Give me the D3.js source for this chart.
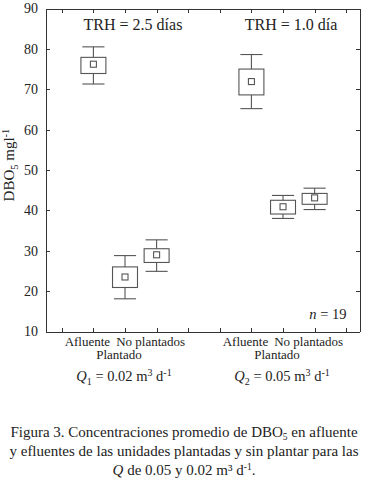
<!DOCTYPE html>
<meta charset="utf-8">
<style>
body { margin: 0; background: #fff; }
svg text { font-family: "Liberation Serif", serif; fill: #222; }
.axis path, .axis line { fill: none; stroke: #333; shape-rendering: crispEdges; }
.box rect, .box line { fill: none; stroke: #555; stroke-width: 1.1; }
</style>
<svg class="chart" width="368" height="480"></svg>
<script src="https://d3js.org/d3.v7.min.js"></script>
<script>

var groups = ["Q1", "Q2"];
var flows = ["0.02", "0.05"];
var trh = ["TRH = 2.5 días", "TRH = 1.0 día"];
var categories = ["Afluente", "Plantado", "No plantados"];

// one entry per box: Q1 (Afluente, Plantado, No plantados), then Q2
var whiskLow  = [71.3, 18.1, 24.9, 65.2, 38.0, 40.2];
var boxLow    = [73.9, 20.9, 27.1, 68.6, 39.1, 41.5];
var means     = [76.2, 23.5, 29.0, 71.9, 40.9, 43.1];
var boxHigh   = [77.9, 26.0, 30.5, 75.0, 42.5, 44.2];
var whiskHigh = [80.5, 28.8, 32.7, 78.6, 43.7, 45.5];

var yTicks = [10, 20, 30, 40, 50, 60, 70, 80, 90];
var xTicks = [1, 2, 3, 4, 5, 6, 7, 8, 9, 10];

var margin = {top: 8.5, left: 46, right: 8.5, bottom: 148.5},
    width = 368 - margin.left - margin.right,
    height = 480 - margin.top - margin.bottom;

var svg = d3.select(".chart");
var chart = svg.append("g")
    .attr("transform", "translate(" + margin.left + "," + margin.top + ")");

var x = d3.scaleLinear().domain([0.5, 10.42]).range([0, width]);
var y = d3.scaleLinear().domain([10, 90]).range([height, 0]);

// slot on the x axis for box i (3 boxes per group, 5 slots per group)
function slot(i) { return Math.floor(i / 3) * 5 + (i % 3) + 2; }

chart.append("g").attr("class", "axis")
    .attr("transform", "translate(0," + height + ")")
    .call(d3.axisBottom(x).tickValues(xTicks).tickSize(-4).tickSizeOuter(0).tickFormat(""));
chart.append("g").attr("class", "axis")
    .call(d3.axisTop(x).tickValues(xTicks).tickSize(-4).tickSizeOuter(0).tickFormat(""));
chart.append("g").attr("class", "axis")
    .attr("transform", "translate(" + width + ",0)")
    .call(d3.axisRight(y).tickValues(yTicks).tickSize(-4).tickSizeOuter(0).tickFormat(""));
var yAxis = chart.append("g").attr("class", "axis")
    .call(d3.axisLeft(y).tickValues(yTicks).tickSize(-4).tickSizeOuter(0).tickPadding(8));
yAxis.selectAll("text").style("font-size", "14px").style("font-family", "Liberation Serif").attr("fill", "#222");

// boxes
var box = chart.selectAll(".box")
    .data(means)
    .enter().append("g")
    .attr("class", "box")
    .attr("transform", function(d, i) { return "translate(" + x(slot(i)) + ",0)"; });

var bw = x(1.79) - x(1), cw = x(1.7) - x(1), mw = 6;

box.append("line")
    .attr("y1", function(d, i) { return y(whiskHigh[i]); })
    .attr("y2", function(d, i) { return y(boxHigh[i]); });
box.append("line")
    .attr("y1", function(d, i) { return y(boxLow[i]); })
    .attr("y2", function(d, i) { return y(whiskLow[i]); });
box.append("line")
    .attr("x1", -cw / 2).attr("x2", cw / 2)
    .attr("y1", function(d, i) { return y(whiskHigh[i]); })
    .attr("y2", function(d, i) { return y(whiskHigh[i]); });
box.append("line")
    .attr("x1", -cw / 2).attr("x2", cw / 2)
    .attr("y1", function(d, i) { return y(whiskLow[i]); })
    .attr("y2", function(d, i) { return y(whiskLow[i]); });
box.append("rect")
    .attr("x", -bw / 2).attr("width", bw)
    .attr("y", function(d, i) { return y(boxHigh[i]); })
    .attr("height", function(d, i) { return y(boxLow[i]) - y(boxHigh[i]); });
box.append("rect")
    .attr("x", -mw / 2).attr("width", mw)
    .attr("y", function(d) { return y(d) - mw / 2; })
    .attr("height", mw);

// category labels under the axis
groups.forEach(function(g, gi) {
  categories.forEach(function(c, ci) {
    chart.append("text")
      .attr("x", x(slot(gi * 3 + ci)) - 6)
      .attr("y", height + (ci === 1 ? 27 : 14))
      .attr("text-anchor", "middle")
      .style("font-size", "13px")
      .text(c);
  });

  var q = chart.append("text")
      .attr("x", x(slot(gi * 3 + 1)) - 1)
      .attr("y", height + 49)
      .attr("text-anchor", "middle")
      .style("font-size", "14.5px");
  q.append("tspan").style("font-style", "italic").text("Q");
  q.append("tspan").attr("dy", 4).style("font-size", "10px").text(String(gi + 1));
  q.append("tspan").attr("dy", -4).text(" = " + flows[gi] + " m");
  q.append("tspan").attr("dy", -5).style("font-size", "10px").text("3");
  q.append("tspan").attr("dy", 5).text(" d");
  q.append("tspan").attr("dy", -5).style("font-size", "10px").text("-1");

  chart.append("text")
      .attr("x", x(slot(gi * 3 + 1)) + 8)
      .attr("y", 21.5)
      .attr("text-anchor", "middle")
      .style("font-size", "16px")
      .text(trh[gi]);
});

var n = chart.append("text")
    .attr("x", width - 13)
    .attr("y", y(13.2))
    .attr("text-anchor", "end")
    .style("font-size", "14.5px");
n.append("tspan").style("font-style", "italic").text("n");
n.append("tspan").text(" = 19");

// y axis title
var yt = svg.append("text")
    .attr("transform", "translate(14,165) rotate(-90)")
    .attr("text-anchor", "middle")
    .style("font-size", "15px");
yt.append("tspan").text("DBO");
yt.append("tspan").attr("dy", 4).style("font-size", "10.5px").text("5");
yt.append("tspan").attr("dy", -4).text(" mgl");
yt.append("tspan").attr("dy", -5).style("font-size", "10.5px").text("-1");

// caption
var cap1 = svg.append("text").attr("x", 184).attr("y", 437)
    .attr("text-anchor", "middle").style("font-size", "15px");
cap1.append("tspan").text("Figura 3. Concentraciones promedio de DBO");
cap1.append("tspan").attr("dy", 3).style("font-size", "9.5px").text("5");
cap1.append("tspan").attr("dy", -3).text(" en afluente");

svg.append("text").attr("x", 184).attr("y", 456)
    .attr("text-anchor", "middle").style("font-size", "15px")
    .text("y efluentes de las unidades plantadas y sin plantar para las");

var cap3 = svg.append("text").attr("x", 184).attr("y", 475)
    .attr("text-anchor", "middle").style("font-size", "15px");
cap3.append("tspan").style("font-style", "italic").text("Q");
cap3.append("tspan").text(" de 0.05 y 0.02 m³ d");
cap3.append("tspan").attr("dy", -5).style("font-size", "9.5px").text("-1");
cap3.append("tspan").attr("dy", 5).text(".");

</script>
